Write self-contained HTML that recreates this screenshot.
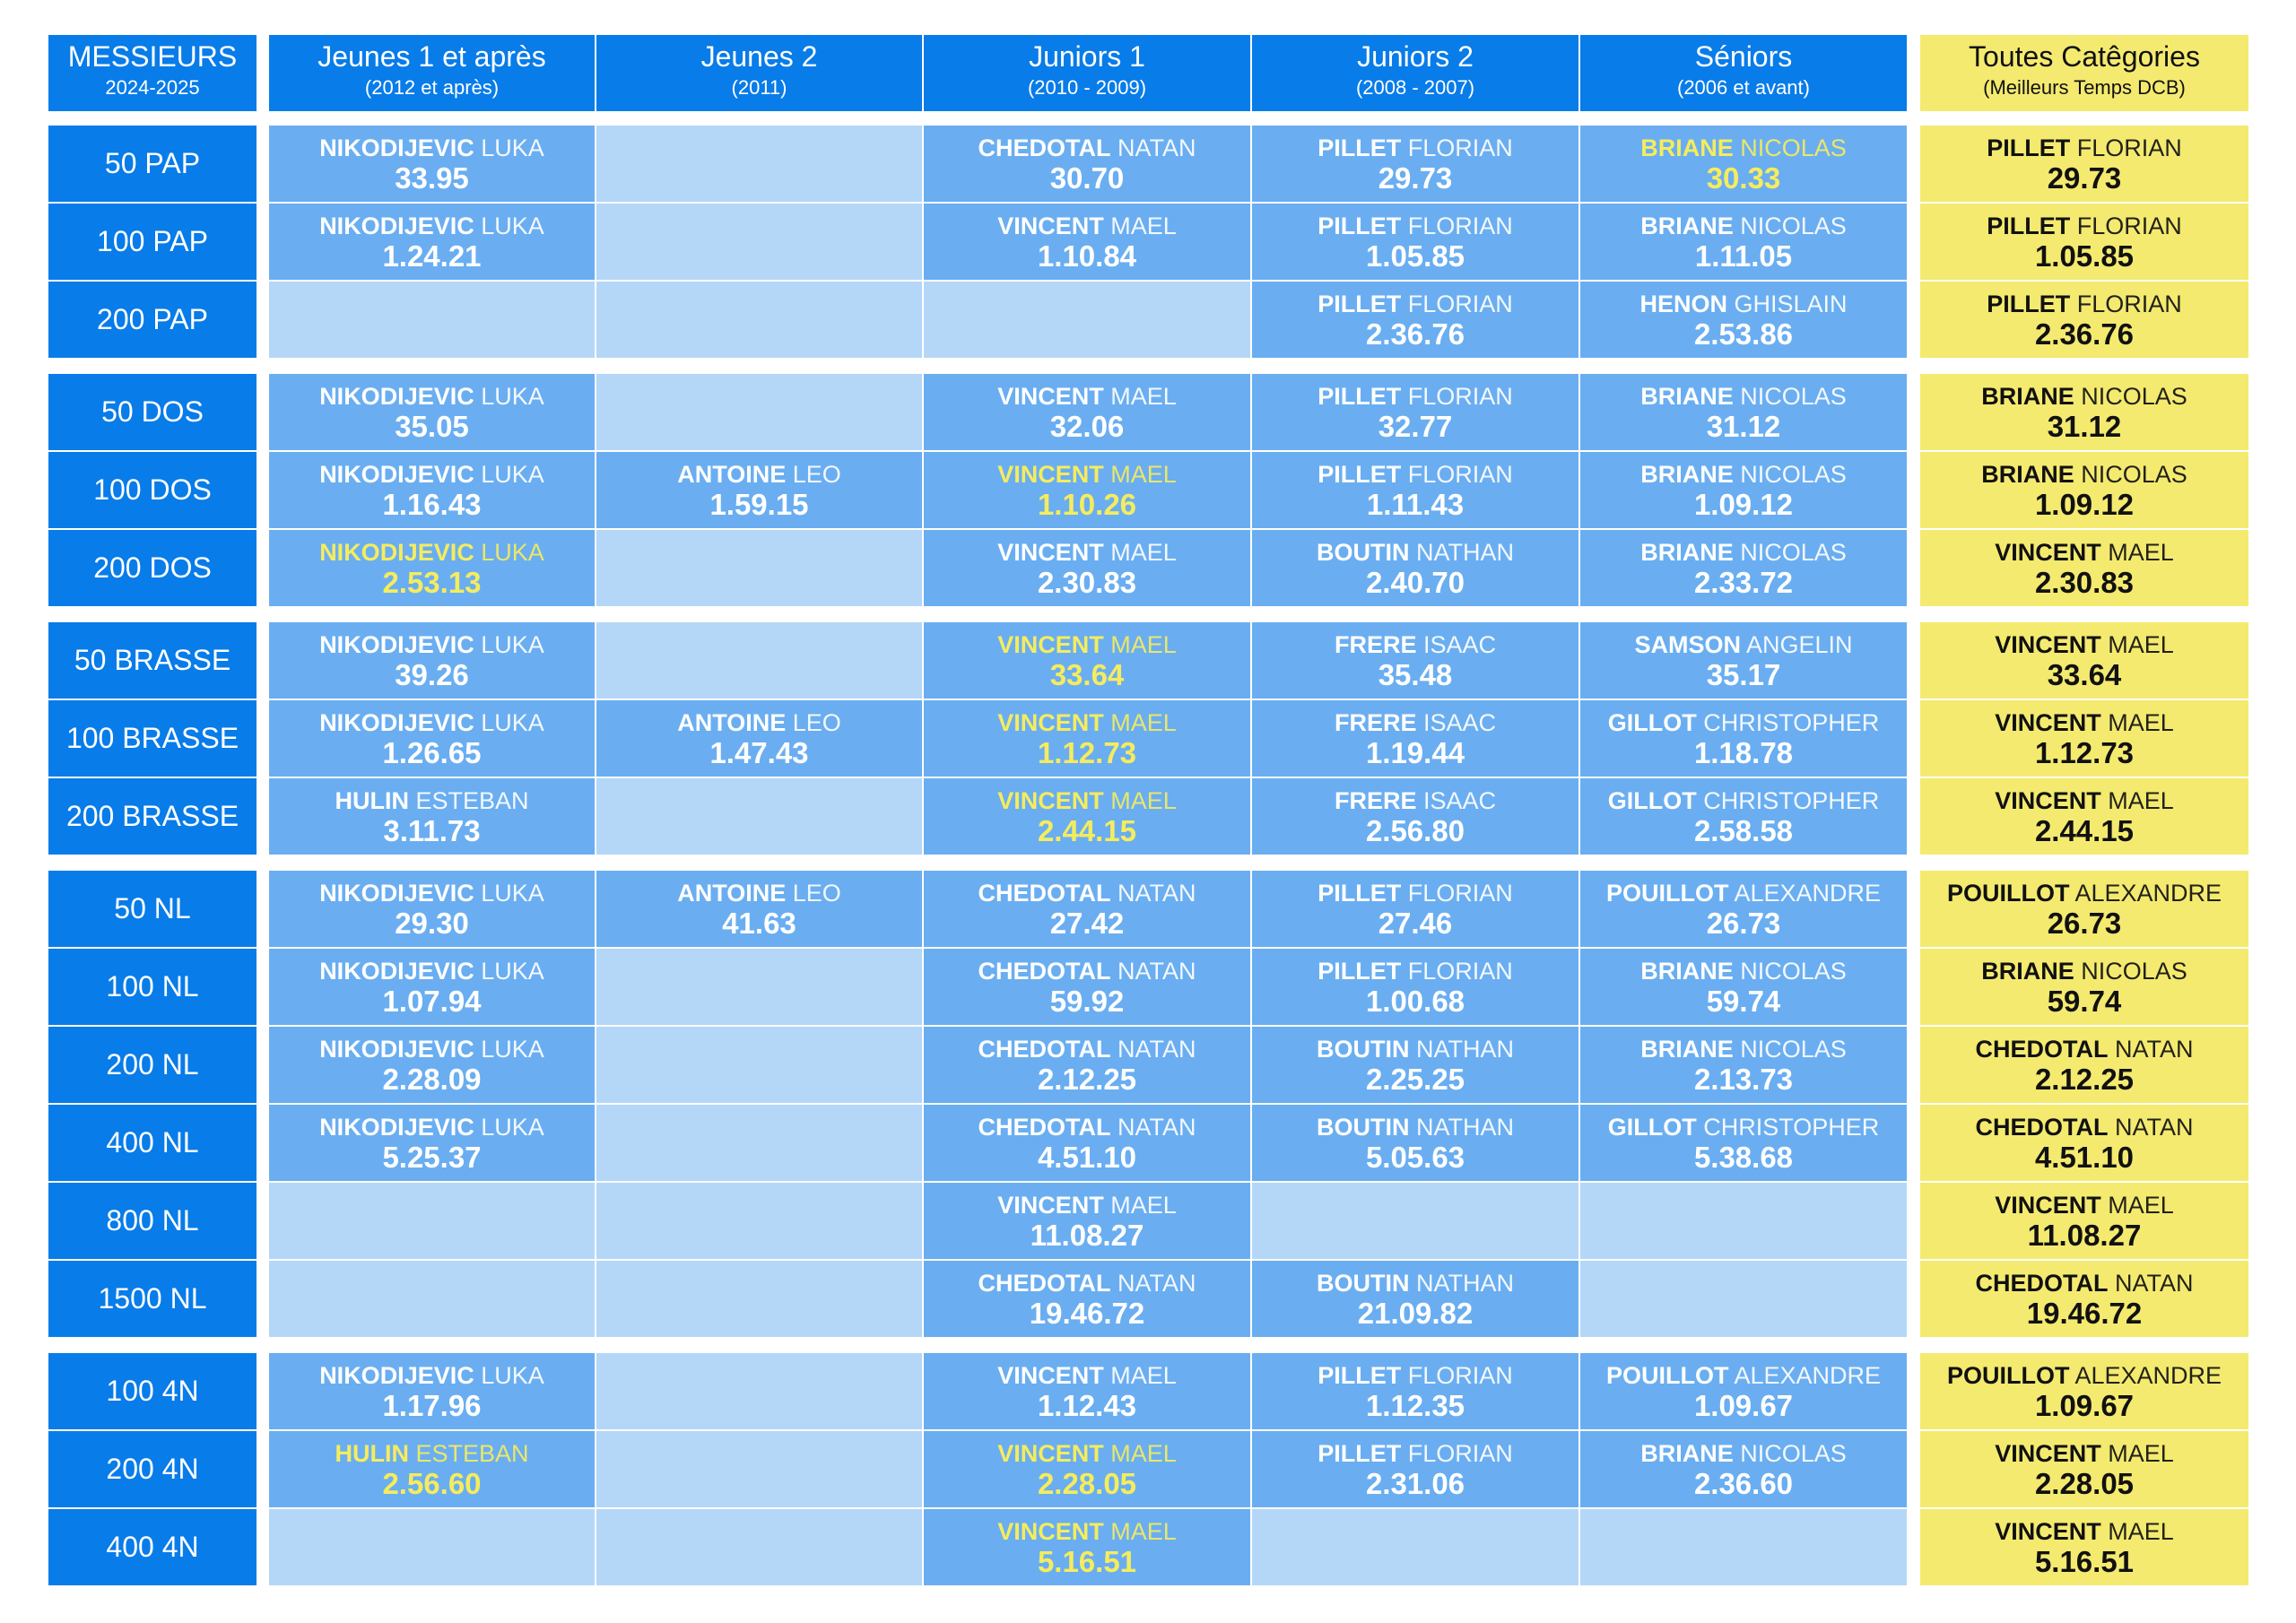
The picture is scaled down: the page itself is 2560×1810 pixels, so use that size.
<!DOCTYPE html>
<html><head><meta charset="utf-8">
<style>
body{margin:0;width:2560px;height:1810px;background:#fff;position:relative;overflow:hidden;font-family:"Liberation Sans",sans-serif}
.c{position:absolute;box-sizing:border-box;text-align:center;color:#fff}
.hd{background:#087ce9}
.lab{background:#087ce9;font-size:32px;display:flex;align-items:center;justify-content:center}
.f{background:#6aaef1}
.e{background:#b4d7f8}
.y{background:#f4ea6f;color:#111}
.nm{position:absolute;left:0;right:0;top:10px;font-size:27px;white-space:nowrap}
.nm b{font-weight:bold}
.nm span{font-weight:normal;opacity:.92}
.tm{position:absolute;left:0;right:0;top:40px;font-size:33px;font-weight:bold}
.hl{color:#f5ec5e}
.h1{position:absolute;left:0;right:0;top:6px;font-size:32px}
.h2{position:absolute;left:0;right:0;top:46px;font-size:22px}
</style></head><body>
<div id="t"></div>
<script>
const colX=[[54,286],[300,665],[665,1030],[1030,1396],[1396,1762],[1762,2126],[2141,2507]];
const headers=[["MESSIEURS","2024-2025"],["Jeunes 1 et après","(2012 et après)"],["Jeunes 2","(2011)"],["Juniors 1","(2010 - 2009)"],["Juniors 2","(2008 - 2007)"],["Séniors","(2006 et avant)"],["Toutes Catêgories","(Meilleurs Temps DCB)"]];
const groups=[
["50 PAP","100 PAP","200 PAP"],
["50 DOS","100 DOS","200 DOS"],
["50 BRASSE","100 BRASSE","200 BRASSE"],
["50 NL","100 NL","200 NL","400 NL","800 NL","1500 NL"],
["100 4N","200 4N","400 4N"]];
const cells={
"50 PAP":["NIKODIJEVIC|LUKA|33.95","","CHEDOTAL|NATAN|30.70","PILLET|FLORIAN|29.73","BRIANE|NICOLAS|30.33|h","PILLET|FLORIAN|29.73"],
"100 PAP":["NIKODIJEVIC|LUKA|1.24.21","","VINCENT|MAEL|1.10.84","PILLET|FLORIAN|1.05.85","BRIANE|NICOLAS|1.11.05","PILLET|FLORIAN|1.05.85"],
"200 PAP":["","","","PILLET|FLORIAN|2.36.76","HENON|GHISLAIN|2.53.86","PILLET|FLORIAN|2.36.76"],
"50 DOS":["NIKODIJEVIC|LUKA|35.05","","VINCENT|MAEL|32.06","PILLET|FLORIAN|32.77","BRIANE|NICOLAS|31.12","BRIANE|NICOLAS|31.12"],
"100 DOS":["NIKODIJEVIC|LUKA|1.16.43","ANTOINE|LEO|1.59.15","VINCENT|MAEL|1.10.26|h","PILLET|FLORIAN|1.11.43","BRIANE|NICOLAS|1.09.12","BRIANE|NICOLAS|1.09.12"],
"200 DOS":["NIKODIJEVIC|LUKA|2.53.13|h","","VINCENT|MAEL|2.30.83","BOUTIN|NATHAN|2.40.70","BRIANE|NICOLAS|2.33.72","VINCENT|MAEL|2.30.83"],
"50 BRASSE":["NIKODIJEVIC|LUKA|39.26","","VINCENT|MAEL|33.64|h","FRERE|ISAAC|35.48","SAMSON|ANGELIN|35.17","VINCENT|MAEL|33.64"],
"100 BRASSE":["NIKODIJEVIC|LUKA|1.26.65","ANTOINE|LEO|1.47.43","VINCENT|MAEL|1.12.73|h","FRERE|ISAAC|1.19.44","GILLOT|CHRISTOPHER|1.18.78","VINCENT|MAEL|1.12.73"],
"200 BRASSE":["HULIN|ESTEBAN|3.11.73","","VINCENT|MAEL|2.44.15|h","FRERE|ISAAC|2.56.80","GILLOT|CHRISTOPHER|2.58.58","VINCENT|MAEL|2.44.15"],
"50 NL":["NIKODIJEVIC|LUKA|29.30","ANTOINE|LEO|41.63","CHEDOTAL|NATAN|27.42","PILLET|FLORIAN|27.46","POUILLOT|ALEXANDRE|26.73","POUILLOT|ALEXANDRE|26.73"],
"100 NL":["NIKODIJEVIC|LUKA|1.07.94","","CHEDOTAL|NATAN|59.92","PILLET|FLORIAN|1.00.68","BRIANE|NICOLAS|59.74","BRIANE|NICOLAS|59.74"],
"200 NL":["NIKODIJEVIC|LUKA|2.28.09","","CHEDOTAL|NATAN|2.12.25","BOUTIN|NATHAN|2.25.25","BRIANE|NICOLAS|2.13.73","CHEDOTAL|NATAN|2.12.25"],
"400 NL":["NIKODIJEVIC|LUKA|5.25.37","","CHEDOTAL|NATAN|4.51.10","BOUTIN|NATHAN|5.05.63","GILLOT|CHRISTOPHER|5.38.68","CHEDOTAL|NATAN|4.51.10"],
"800 NL":["","","VINCENT|MAEL|11.08.27","","","VINCENT|MAEL|11.08.27"],
"1500 NL":["","","CHEDOTAL|NATAN|19.46.72","BOUTIN|NATHAN|21.09.82","","CHEDOTAL|NATAN|19.46.72"],
"100 4N":["NIKODIJEVIC|LUKA|1.17.96","","VINCENT|MAEL|1.12.43","PILLET|FLORIAN|1.12.35","POUILLOT|ALEXANDRE|1.09.67","POUILLOT|ALEXANDRE|1.09.67"],
"200 4N":["HULIN|ESTEBAN|2.56.60|h","","VINCENT|MAEL|2.28.05|h","PILLET|FLORIAN|2.31.06","BRIANE|NICOLAS|2.36.60","VINCENT|MAEL|2.28.05"],
"400 4N":["","","VINCENT|MAEL|5.16.51|h","","","VINCENT|MAEL|5.16.51"]};
const T=document.getElementById('t');
function box(x,y,w,h,cls){const d=document.createElement('div');d.className='c '+cls;d.style.left=x+'px';d.style.top=y+'px';d.style.width=w+'px';d.style.height=h+'px';T.appendChild(d);return d;}
headers.forEach((h,i)=>{
 const [a,b]=colX[i];
 const d=box(a,39,b-a-(i>0&&i<5?2:0),85,i==6?'y':'hd');
 
 
 d.innerHTML='<div class="h1">'+h[0]+'</div><div class="h2">'+h[1]+'</div>';
});
const RH=87;
let y=140;
groups.forEach(g=>{
 g.forEach((ev,r)=>{
  const ry=y+r*RH, hh=RH-2;
  const l=box(colX[0][0],ry,colX[0][1]-colX[0][0],hh,'lab');
  
  
  l.textContent=ev;
  cells[ev].forEach((s,i)=>{
   const [a,b]=colX[i+1];
   const cls=i==5?'y':(s?'f':'e');
   const d=box(a,ry,b-a-(i<4?2:0),hh,cls);
   
   
   if(s){const p=s.split('|');const hc=p[3]?' hl':'';
    d.innerHTML='<div class="nm'+hc+'"><b>'+p[0]+'</b> <span>'+p[1]+'</span></div><div class="tm'+hc+'">'+p[2]+'</div>';}
  });
 });
 y+=g.length*RH+16;
});
</script>
</body></html>
